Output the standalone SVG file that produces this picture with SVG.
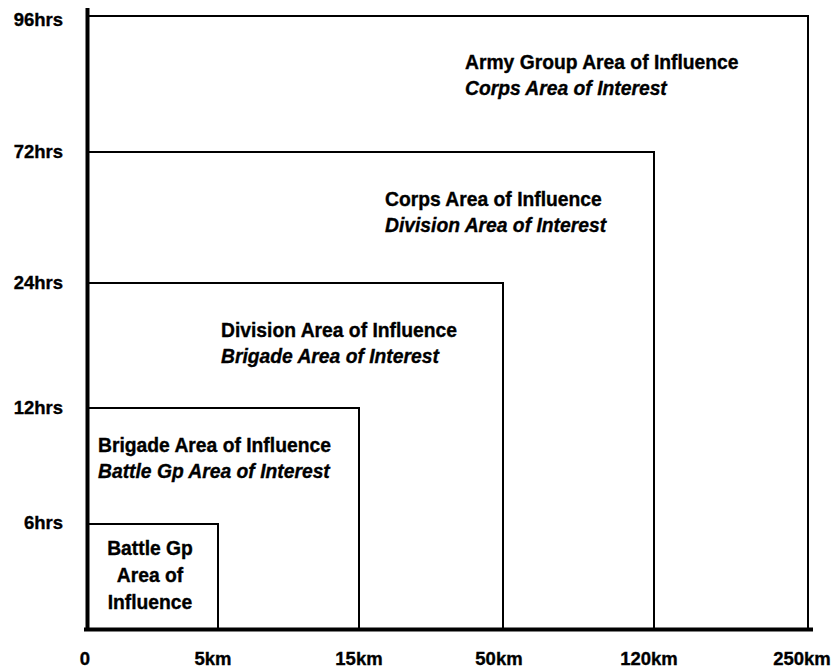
<svg xmlns="http://www.w3.org/2000/svg" width="835" height="668" viewBox="0 0 835 668">
<style>
.box{fill:none;stroke:#000;stroke-width:2}
.axis{stroke:#000;stroke-width:4;fill:none}
text{font-family:"Liberation Sans",Arial,sans-serif;font-weight:bold;font-size:19.3px;fill:#000;stroke:#000;stroke-width:0.35}
.it{font-style:italic}
.ax{font-size:18.5px}
.yl{text-anchor:end}
.xl{text-anchor:middle}
</style>
<rect width="835" height="668" fill="#fff"/>
<g id="box-army-group">
<path class="box" d="M87,16 H808 V629"/>
<text x="465" y="69">Army Group Area of Influence</text>
<text class="it" x="465" y="95">Corps Area of Interest</text>
</g>
<g id="box-corps">
<path class="box" d="M87,152 H654 V629"/>
<text x="385" y="206">Corps Area of Influence</text>
<text class="it" x="385" y="232">Division Area of Interest</text>
</g>
<g id="box-division">
<path class="box" d="M87,283 H503 V629"/>
<text x="221" y="337">Division Area of Influence</text>
<text class="it" x="221" y="363">Brigade Area of Interest</text>
</g>
<g id="box-brigade">
<path class="box" d="M87,408 H359 V629"/>
<text x="98" y="452">Brigade Area of Influence</text>
<text class="it" x="98" y="478">Battle Gp Area of Interest</text>
</g>
<g id="box-battle-gp">
<path class="box" d="M87,524 H218 V629"/>
<text class="xl" x="150" y="555">Battle Gp</text>
<text class="xl" x="150" y="582">Area of</text>
<text class="xl" x="150" y="609">Influence</text>
</g>
<g id="axes">
<path class="axis" d="M87.5,8 V631"/>
<path class="axis" d="M84,629.5 H813"/>
</g>
<g id="y-labels">
<text class="ax yl" x="63" y="26">96hrs</text>
<text class="ax yl" x="63" y="158">72hrs</text>
<text class="ax yl" x="63" y="289">24hrs</text>
<text class="ax yl" x="63" y="414">12hrs</text>
<text class="ax yl" x="63" y="529">6hrs</text>
</g>
<g id="x-labels">
<text class="ax xl" x="85" y="665">0</text>
<text class="ax xl" x="213" y="665">5km</text>
<text class="ax xl" x="359" y="665">15km</text>
<text class="ax xl" x="499" y="665">50km</text>
<text class="ax xl" x="649" y="665">120km</text>
<text class="ax xl" x="802" y="665">250km</text>
</g>
</svg>
